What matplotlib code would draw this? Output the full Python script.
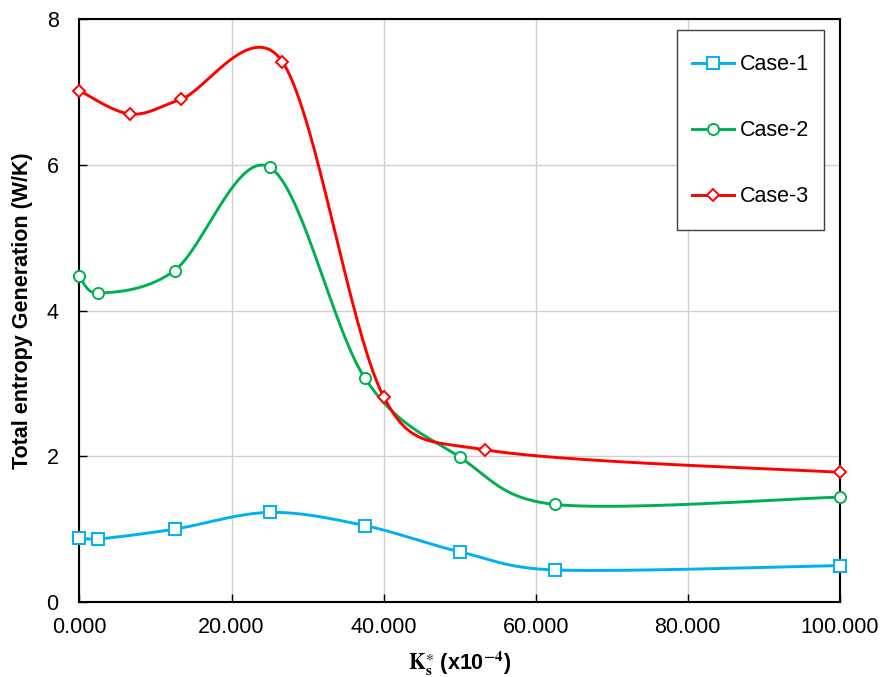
import numpy as np
import matplotlib
matplotlib.use("Agg")
import matplotlib.pyplot as plt
from matplotlib.lines import Line2D
from matplotlib.legend_handler import HandlerLine2D

plt.rcParams["font.family"] = ["Liberation Sans", "DejaVu Sans"]
plt.rcParams["mathtext.fontset"] = "stix"

# data
x_case12 = [0, 2.5, 12.5, 25, 37.5, 50, 62.5, 100]
case1 = [0.88, 0.865, 1.00, 1.23, 1.05, 0.69, 0.44, 0.50]
case2 = [4.47, 4.24, 4.55, 5.97, 3.08, 1.99, 1.34, 1.44]
x_case3 = [0, 6.67, 13.33, 26.67, 40, 53.33, 100]
case3 = [7.02, 6.70, 6.90, 7.42, 2.82, 2.09, 1.78]

x_ticks = [0, 20, 40, 60, 80, 100]
x_ticklabels = ["0.000", "20.000", "40.000", "60.000", "80.000", "100.000"]
y_ticks = [0, 2, 4, 6, 8]

FS = 15.5


def smooth(xs, ys, sx=7.6, sy=72.85, n=60):
    """Excel-like smoothed line: Catmull-Rom Bezier, control arms capped
    at half the segment length (computed in screen units)."""
    p = np.column_stack([np.asarray(xs) * sx, np.asarray(ys) * sy])
    ext = np.vstack([p[0], p, p[-1]])
    t = np.linspace(0, 1, n)[:, None]
    out = []
    for i in range(len(p) - 1):
        p0, p1, p2, p3 = ext[i], ext[i + 1], ext[i + 2], ext[i + 3]
        d12 = np.hypot(*(p2 - p1))
        d02 = np.hypot(*(p2 - p0))
        d13 = np.hypot(*(p3 - p1))
        f1 = 1 / 6 if d02 / 6 < d12 / 2 else d12 / (2 * d02)
        f2 = 1 / 6 if d13 / 6 < d12 / 2 else d12 / (2 * d13)
        b1 = p1 + f1 * (p2 - p0)
        b2 = p2 - f2 * (p3 - p1)
        seg = ((1 - t) ** 3) * p1 + 3 * ((1 - t) ** 2) * t * b1 \
            + 3 * (1 - t) * t ** 2 * b2 + t ** 3 * p2
        out.append(seg)
    out = np.vstack(out)
    return out[:, 0] / sx, out[:, 1] / sy


class ShiftedLine(HandlerLine2D):
    """Legend line handle nudged down to sit on the label's centre."""

    def create_artists(self, legend, orig_handle, xdescent, ydescent,
                       width, height, fontsize, trans):
        arts = super().create_artists(legend, orig_handle, xdescent,
                                      ydescent, width, height, fontsize,
                                      trans)
        for a in arts:
            a.set_ydata(np.asarray(a.get_ydata(), float) - 4.0)
        return arts


fig = plt.figure(figsize=(8.83, 6.77), dpi=100)
ax = fig.add_axes([0.090, 0.1108, 0.861, 0.8607])

series = [
    ("Case-1", x_case12, case1, "#00B0F0", "s", 8),
    ("Case-2", x_case12, case2, "#00B050", "o", 8),
    ("Case-3", x_case3, case3, "#FF0000", "D", 6),
]

handles = []
for name, xs, ys, color, marker, ms in series:
    sx, sy = smooth(xs, ys)
    ax.plot(sx, sy, color=color, lw=2.1, zorder=3, clip_on=False)
    ax.plot(xs, ys, ls="none", marker=marker, ms=ms, mfc="white",
            mec=color, mew=1.4, zorder=4, clip_on=False)
    handles.append(Line2D([], [], color=color, lw=2.1, marker=marker,
                          ms=ms, mfc="white", mec=color, mew=1.4))

ax.set_xlim(0, 100)
ax.set_ylim(0, 8)
ax.set_xticks(x_ticks)
ax.set_xticklabels(x_ticklabels)
ax.set_yticks(y_ticks)
ax.tick_params(direction="in", length=6, width=1, labelsize=FS)
ax.tick_params(axis="x", pad=11)
ax.tick_params(axis="y", pad=15)
ax.grid(True, color="#D0D0D0", lw=1)
ax.set_axisbelow(True)
for s in ax.spines.values():
    s.set_color("black")
    s.set_linewidth(1.5)

ax.set_xlabel(r"$\mathbf{K}_\mathbf{s}^{\ast}$ (x10$^{\mathbf{-4}}$)",
              fontsize=FS, fontweight="bold")
ax.set_ylabel("Total entropy Generation (W/K)", fontsize=FS,
              fontweight="bold")
ax.xaxis.set_label_coords(0.5, -0.080)
ax.yaxis.set_label_coords(-0.061, 0.5)

leg = ax.legend(handles, [h[0] for h in series], loc="upper right",
                bbox_to_anchor=(0.979, 0.982), fontsize=FS,
                labelspacing=1.33, handlelength=1.95, handleheight=2.3,
                handletextpad=0.25, borderpad=0.7, borderaxespad=0,
                fancybox=False, framealpha=1, edgecolor="#404040",
                handler_map={Line2D: ShiftedLine()})
leg.get_frame().set_linewidth(1.0)

plt.savefig("out.png", dpi=100)
plt.close()
